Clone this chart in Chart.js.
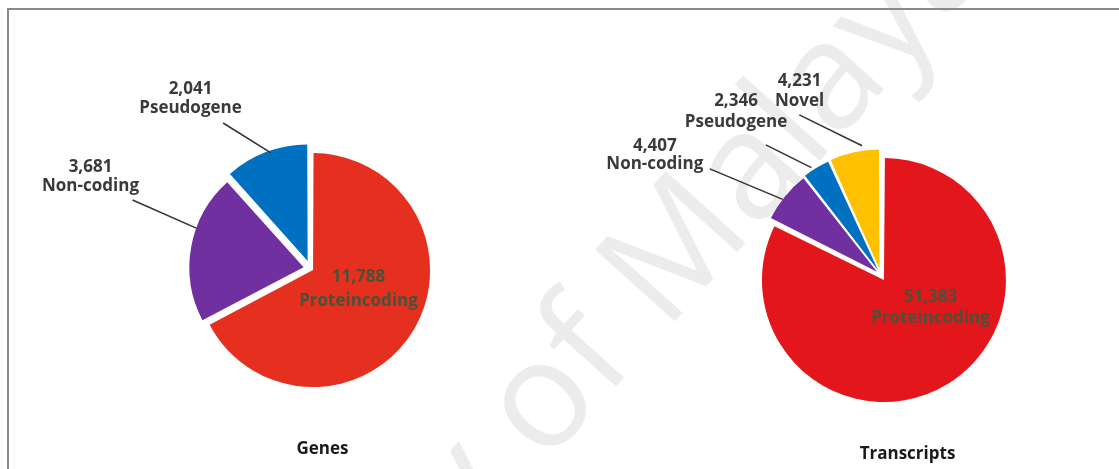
<!DOCTYPE html>
<html>
<head>
<meta charset="utf-8">
<title>Genes and transcripts</title>
<script src="https://cdn.jsdelivr.net/npm/chart.js@4.4.1/dist/chart.umd.min.js"></script>
<style>
    html, body { margin: 0; padding: 0; background: #fff; }
    #wrap { position: relative; width: 1119px; height: 469px; overflow: hidden; }
    #wrap canvas { position: absolute; left: 0; top: 0; }
    #frame {
        position: absolute; left: 7px; top: 8px; width: 1200px; height: 600px;
        border-top: 2px solid #8a8a8a; border-left: 2px solid #8a8a8a;
    }
</style>
</head>
<body>
<div id="wrap">
    <canvas id="mark" width="1119" height="469"></canvas>
    <div id="frame"></div>
    <canvas id="genesChart" width="1119" height="469"></canvas>
    <canvas id="transcriptsChart" width="1119" height="469"></canvas>
</div>
<script>
// Gene counts by biotype
var geneCategories = ['Proteincoding', 'Non-coding', 'Pseudogene'];
var geneCounts = [11788, 3681, 2041];

// Transcript counts by biotype
var transcriptCategories = ['Proteincoding', 'Non-coding', 'Pseudogene', 'Novel'];
var transcriptCounts = [51383, 4407, 2346, 4231];

var geneColors = ['#e6301f', '#7030a0', '#0070c0'];
var transcriptColors = ['#e3171b', '#7030a0', '#0070c0', '#ffc000'];

var LABEL_FONT = 'bold 17px "Open Sans"';

// Faint background text
(function () {
    var ctx = document.getElementById('mark').getContext('2d');
    ctx.save();
    ctx.translate(560, 385);
    ctx.rotate(-48 * Math.PI / 180);
    ctx.font = '150px "Open Sans"';
    ctx.fillStyle = '#ececec';
    ctx.textBaseline = 'middle';
    var mid = 'of';
    var w = ctx.measureText(mid).width;
    ctx.textAlign = 'right';
    ctx.fillText('University ', -w / 2, 0);
    ctx.textAlign = 'center';
    ctx.fillText(mid, 0, 0);
    ctx.textAlign = 'left';
    ctx.fillText(' Malaya', w / 2, 0);
    ctx.restore();
})();

// Draws value/name labels, leader lines and the caption under each pie
var sliceLabels = {
    id: 'sliceLabels',
    afterDatasetsDraw: function (chart, args, opts) {
        var ctx = chart.ctx;
        var arcs = chart.getDatasetMeta(0).data;
        var cx = arcs[0].x, cy = arcs[0].y;
        var values = chart.data.datasets[0].data;
        var names = chart.data.labels;

        ctx.save();
        ctx.font = LABEL_FONT;
        ctx.textAlign = 'center';
        ctx.textBaseline = 'alphabetic';

        opts.labels.forEach(function (lab, i) {
            if (!lab) return;
            ctx.fillStyle = lab.color || '#3a3a3a';
            var x = cx + lab.dx, y = cy + lab.dy;
            ctx.fillText(values[i].toLocaleString('en-US'), x, y);
            ctx.fillText(names[i], x, y + (lab.gap || 19));

            if (lab.line) {
                var arc = arcs[i];
                var p = arc.getProps(['startAngle', 'endAngle', 'outerRadius']);
                var shift = (arc.options.offset || 0) / 4;
                var half = (p.startAngle + p.endAngle) / 2;
                var fix = 1 - Math.sin(Math.min(Math.PI, p.endAngle - p.startAngle));
                var ax = cx + Math.cos(half) * shift;
                var ay = cy + Math.sin(half) * shift;
                var ang = p.startAngle + lab.line.frac * (p.endAngle - p.startAngle);
                var r = p.outerRadius + shift * fix + lab.line.dr;
                ctx.beginPath();
                ctx.moveTo(cx + lab.line.sx, cy + lab.line.sy);
                ctx.lineTo(ax + Math.cos(ang) * r, ay + Math.sin(ang) * r);
                ctx.strokeStyle = '#333';
                ctx.lineWidth = 1.5;
                ctx.stroke();
            }
        });

        if (opts.caption) {
            ctx.fillStyle = '#1a1a1a';
            ctx.fillText(opts.caption.text, cx + opts.caption.dx, cy + opts.caption.dy);
        }
        ctx.restore();
    }
};

function pieConfig(labels, values, colors, offsets, radius, padding, labelOpts) {
    return {
        type: 'pie',
        data: {
            labels: labels,
            datasets: [{
                data: values,
                backgroundColor: colors,
                borderWidth: 0,
                offset: offsets
            }]
        },
        options: {
            responsive: false,
            animation: false,
            events: [],
            radius: radius,
            layout: { padding: padding },
            plugins: {
                legend: { display: false },
                tooltip: { enabled: false },
                sliceLabels: labelOpts
            }
        },
        plugins: [sliceLabels]
    };
}

document.addEventListener('DOMContentLoaded', function () {
    // Genes
    new Chart(document.getElementById('genesChart'), pieConfig(
        geneCategories, geneCounts, geneColors,
        [12, 28, 32], 114,
        { left: 0, right: 498, top: 68, bottom: 0 },
        {
            labels: [
                { dx: 48, dy: 13, gap: 24.5, color: '#4b5139' },
                { dx: -220, dy: -97, line: { sx: -178, sy: -68.5, frac: 0.63, dr: 0 } },
                { dx: -120, dy: -174.5, line: { sx: -87.4, sy: -145.5, frac: 0.55, dr: -2 } }
            ],
            caption: { text: 'Genes', dx: 12, dy: 185 }
        }
    ));

    // Transcripts
    new Chart(document.getElementById('transcriptsChart'), pieConfig(
        transcriptCategories, transcriptCounts, transcriptColors,
        [24, 20, 20, 24], 116,
        { left: 642.6, right: 0, top: 80.8, bottom: 0 },
        {
            labels: [
                { dx: 49.7, dy: 26.8, gap: 21, color: '#4b5139' },
                { dx: -226, dy: -124.2, gap: 18.6, line: { sx: -171, sy: -106, frac: 0.43, dr: 0 } },
                { dx: -144.8, dy: -168.9, gap: 21, line: { sx: -115, sy: -130, frac: 0.37, dr: 3 } },
                { dx: -81.3, dy: -188.9, gap: 20, line: { sx: -81.5, sy: -160, frac: 0.67, dr: 5 } }
            ],
            caption: { text: 'Transcripts', dx: 26.7, dy: 184.4 }
        }
    ));
});
</script>
</body>
</html>
